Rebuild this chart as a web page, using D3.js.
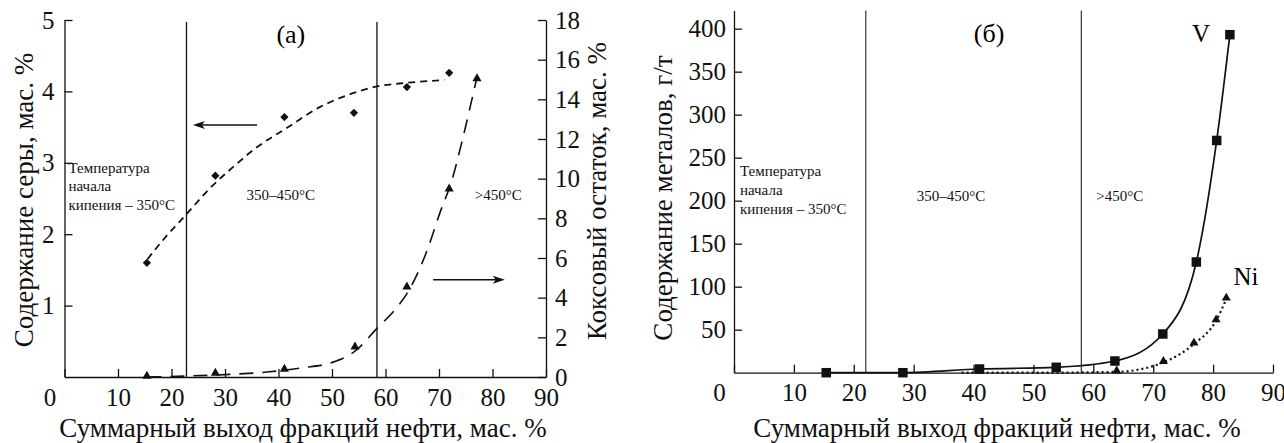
<!DOCTYPE html>
<html>
<head>
<meta charset="utf-8">
<script src="https://cdn.jsdelivr.net/npm/d3@7"></script>
<style>
body{margin:0;background:#fff;}
svg{display:block;font-family:"Liberation Serif","Times New Roman",serif;}
.axis path,.axis line{stroke:#111;stroke-width:1.3px;}
.axis text{font-size:25px;fill:#111;font-family:"Liberation Serif",serif;}
.title{font-size:27px;fill:#111;}
.note{font-size:15px;fill:#111;}
</style>
</head>
<body>
<script>
// panel (a): sulfur (left axis) and coke residue (right axis)
var sulfurX = [15.4, 28.2, 41.1, 54.1, 64.0, 71.9];
var sulfur = [1.6, 2.82, 3.64, 3.70, 4.06, 4.26];
var sulfurFitX = [15.5, 19, 22.8, 27, 31.5, 36, 41.6, 47.7, 53, 58.4, 64, 71];
var sulfurFitY = [1.65, 1.97, 2.28, 2.63, 2.94, 3.22, 3.49, 3.78, 3.95, 4.07, 4.12, 4.16];
var cokeX = [15.4, 28.2, 41.1, 54.3, 64.0, 71.9, 77.1];
var coke = [0, 0.15, 0.35, 1.47, 4.5, 9.44, 15.0];
var cokeFitX = [15.5, 22.9, 30, 37.8, 44, 50.2, 54.3, 58.4, 62.1, 64, 67.8, 70.2, 72.5, 74.5, 77];
var cokeFitY = [0, 0.05, 0.12, 0.25, 0.45, 0.75, 1.3, 2.45, 3.5, 4.2, 6.4, 8.3, 10.0, 12.1, 15.0];

// panel (б): metals
var metalX = [15.4, 28.2, 41.0, 53.8, 63.6, 71.6, 77.2, 80.6, 82.8];
var vanadium = [0, 0, 4.3, 6.3, 13.6, 45, 128.7, 270, 393];
var nickelX = [63.9, 71.7, 76.8, 80.5, 82.2];
var nickel = [1, 12, 33.4, 60.5, 85.7];
var nickelFitX = [38, 50, 63.9, 71.7, 76.8, 80.5, 82.2];
var nickelFitY = [0, 0, 1, 12, 33.4, 60.5, 85.7];

var xTicks = [0, 10, 20, 30, 40, 50, 60, 70, 80, 90];
var sulfurTicks = [1, 2, 3, 4, 5];
var cokeTicks = [0, 2, 4, 6, 8, 10, 12, 14, 16, 18];
var metalTicks = [50, 100, 150, 200, 250, 300, 350, 400];
var boundsA = [22.8, 58.4];
var boundsB = [22, 58];

var xTitle = "Суммарный выход фракций нефти, мас. %";

var svg = d3.select("body").append("svg")
    .attr("width", 1284)
    .attr("height", 443);

var xA = d3.scaleLinear().domain([0, 90]).range([64.5, 546]);
var yA = d3.scaleLinear().domain([0, 5]).range([377, 20]);
var y2A = d3.scaleLinear().domain([0, 18]).range([377, 20]);
var xB = d3.scaleLinear().domain([0, 90]).range([734, 1273]);
var yB = d3.scaleLinear().domain([0, 421]).range([372.7, 10.6]);
var fmt = d3.format("d");

function xAxis(x, y0, g){
  g.attr("class", "axis")
    .attr("transform", "translate(0," + y0 + ")")
    .call(d3.axisBottom(x).tickValues(xTicks).tickFormat(fmt).tickSize(-8).tickSizeOuter(0).tickPadding(11));
  g.selectAll(".tick text").filter(function(d){ return d == 0; }).attr("dx", "-15");
}

// ---------- panel (a) ----------
svg.append("g").call(function(g){ xAxis(xA, 377, g); });
svg.append("g").attr("class", "axis")
    .attr("transform", "translate(" + xA(0) + ",0)")
    .call(d3.axisLeft(yA).tickValues(sulfurTicks).tickFormat(fmt).tickSize(-8).tickSizeOuter(0).tickPadding(10));
svg.append("g").attr("class", "axis")
    .attr("transform", "translate(" + xA(90) + ",0)")
    .call(d3.axisRight(y2A).tickValues(cokeTicks).tickFormat(fmt).tickSize(-8).tickSizeOuter(0).tickPadding(9));

svg.selectAll(".boundA").data(boundsA).enter().append("line")
    .attr("x1", function(d){ return xA(d); }).attr("x2", function(d){ return xA(d); })
    .attr("y1", 22).attr("y2", yA(0))
    .attr("stroke", "#111").attr("stroke-width", 1.3);

var line = d3.line().curve(d3.curveMonotoneX);

svg.append("path")
    .attr("d", line(sulfurFitX.map(function(d, i){ return [xA(d), yA(sulfurFitY[i])]; })))
    .attr("fill", "none").attr("stroke", "#111").attr("stroke-width", 1.8)
    .attr("stroke-dasharray", "7,5");
svg.append("path")
    .attr("d", line(cokeFitX.map(function(d, i){ return [xA(d), y2A(cokeFitY[i])]; })))
    .attr("fill", "none").attr("stroke", "#111").attr("stroke-width", 1.6)
    .attr("stroke-dasharray", "14,9");

svg.selectAll(".sulfur").data(sulfur).enter().append("path")
    .attr("d", d3.symbol().type(d3.symbolSquare).size(34))
    .attr("transform", function(d, i){ return "translate(" + xA(sulfurX[i]) + "," + yA(d) + ") rotate(45)"; })
    .attr("fill", "#111");
svg.selectAll(".coke").data(coke).enter().append("path")
    .attr("d", d3.symbol().type(d3.symbolTriangle).size(36))
    .attr("transform", function(d, i){ return "translate(" + xA(cokeX[i]) + "," + (y2A(d) - 1) + ")"; })
    .attr("fill", "#111");

// arrows
function arrow(x1, x2, y){
  var dir = x2 < x1 ? 1 : -1;
  svg.append("line").attr("x1", x1).attr("x2", x2 + dir * 6).attr("y1", y).attr("y2", y)
      .attr("stroke", "#111").attr("stroke-width", 1.4);
  svg.append("path")
      .attr("d", "M" + x2 + "," + y + "L" + (x2 + dir * 12) + "," + (y - 4) + "L" + (x2 + dir * 9) + "," + y + "L" + (x2 + dir * 12) + "," + (y + 4) + "Z")
      .attr("fill", "#111");
}
arrow(xA(36), xA(24), yA(3.53));
arrow(xA(68.9), xA(82.3), y2A(4.9));

svg.append("text").attr("x", xA(42.3)).attr("y", yA(4.68)).attr("text-anchor", "middle")
    .style("font-size", "26px").text("(а)");
svg.append("text").attr("class", "note").attr("x", xA(0) + 4).attr("y", yA(2.86))
    .selectAll("tspan").data(["Температура", "начала", "кипения – 350°C"]).enter().append("tspan")
    .attr("x", xA(0) + 4).attr("dy", function(d, i){ return i ? 18.5 : 0; }).text(function(d){ return d; });
svg.append("text").attr("class", "note").attr("x", xA(34)).attr("y", yA(2.48)).text("350–450°C");
svg.append("text").attr("class", "note").attr("x", xA(76.7)).attr("y", yA(2.48)).text(">450°C");

svg.append("text").attr("class", "title").attr("text-anchor", "middle")
    .attr("transform", "translate(33,200) rotate(-90)").text("Содержание серы, мас. %");
svg.append("text").attr("class", "title").attr("text-anchor", "middle")
    .attr("transform", "translate(606,191) rotate(-90)").text("Коксовый остаток, мас. %");
svg.append("text").attr("class", "title").attr("text-anchor", "middle")
    .attr("x", 303).attr("y", 437).text(xTitle);

// ---------- panel (б) ----------
svg.append("g").call(function(g){ xAxis(xB, yB(0), g); });
svg.append("g").attr("class", "axis")
    .attr("transform", "translate(" + xB(0) + ",0)")
    .call(d3.axisLeft(yB).tickValues(metalTicks).tickFormat(fmt).tickSize(-8).tickSizeOuter(0).tickPadding(8));

svg.selectAll(".boundB").data(boundsB).enter().append("line")
    .attr("x1", function(d){ return xB(d); }).attr("x2", function(d){ return xB(d); })
    .attr("y1", yB(421)).attr("y2", yB(0))
    .attr("stroke", "#444").attr("stroke-width", 1.3);

svg.append("path")
    .attr("d", line(metalX.map(function(d, i){ return [xB(d), yB(vanadium[i])]; })))
    .attr("fill", "none").attr("stroke", "#111").attr("stroke-width", 1.7);
svg.append("path")
    .attr("d", line(nickelFitX.map(function(d, i){ return [xB(d), yB(nickelFitY[i])]; })))
    .attr("fill", "none").attr("stroke", "#111").attr("stroke-width", 2.2)
    .attr("stroke-dasharray", "2,3");

svg.selectAll(".vanadium").data(vanadium).enter().append("path")
    .attr("d", d3.symbol().type(d3.symbolSquare).size(90))
    .attr("transform", function(d, i){ return "translate(" + xB(metalX[i]) + "," + yB(d) + ")"; })
    .attr("fill", "#111");
svg.selectAll(".nickel").data(nickel).enter().append("path")
    .attr("d", d3.symbol().type(d3.symbolTriangle).size(36))
    .attr("transform", function(d, i){ return "translate(" + xB(nickelX[i]) + "," + (yB(d) - 1) + ")"; })
    .attr("fill", "#111");

svg.append("text").attr("x", xB(42.6)).attr("y", yB(384)).attr("text-anchor", "middle")
    .style("font-size", "26px").text("(б)");
svg.append("text").attr("x", xB(78)).attr("y", yB(384)).attr("text-anchor", "middle")
    .style("font-size", "25px").text("V");
svg.append("text").attr("x", xB(85.5)).attr("y", yB(102)).attr("text-anchor", "middle")
    .style("font-size", "25px").text("Ni");
svg.append("text").attr("class", "note").attr("x", xB(1)).attr("y", yB(229))
    .selectAll("tspan").data(["Температура", "начала", "кипения – 350°C"]).enter().append("tspan")
    .attr("x", xB(1)).attr("dy", function(d, i){ return i ? 19 : 0; }).text(function(d){ return d; });
svg.append("text").attr("class", "note").attr("x", xB(30.5)).attr("y", yB(200)).text("350–450°C");
svg.append("text").attr("class", "note").attr("x", xB(60.5)).attr("y", yB(200)).text(">450°C");

svg.append("text").attr("class", "title").attr("text-anchor", "middle")
    .attr("transform", "translate(672,198) rotate(-90)").text("Содержание металов, г/т");
svg.append("text").attr("class", "title").attr("text-anchor", "middle")
    .attr("x", 997).attr("y", 437).text(xTitle);
</script>
</body>
</html>
